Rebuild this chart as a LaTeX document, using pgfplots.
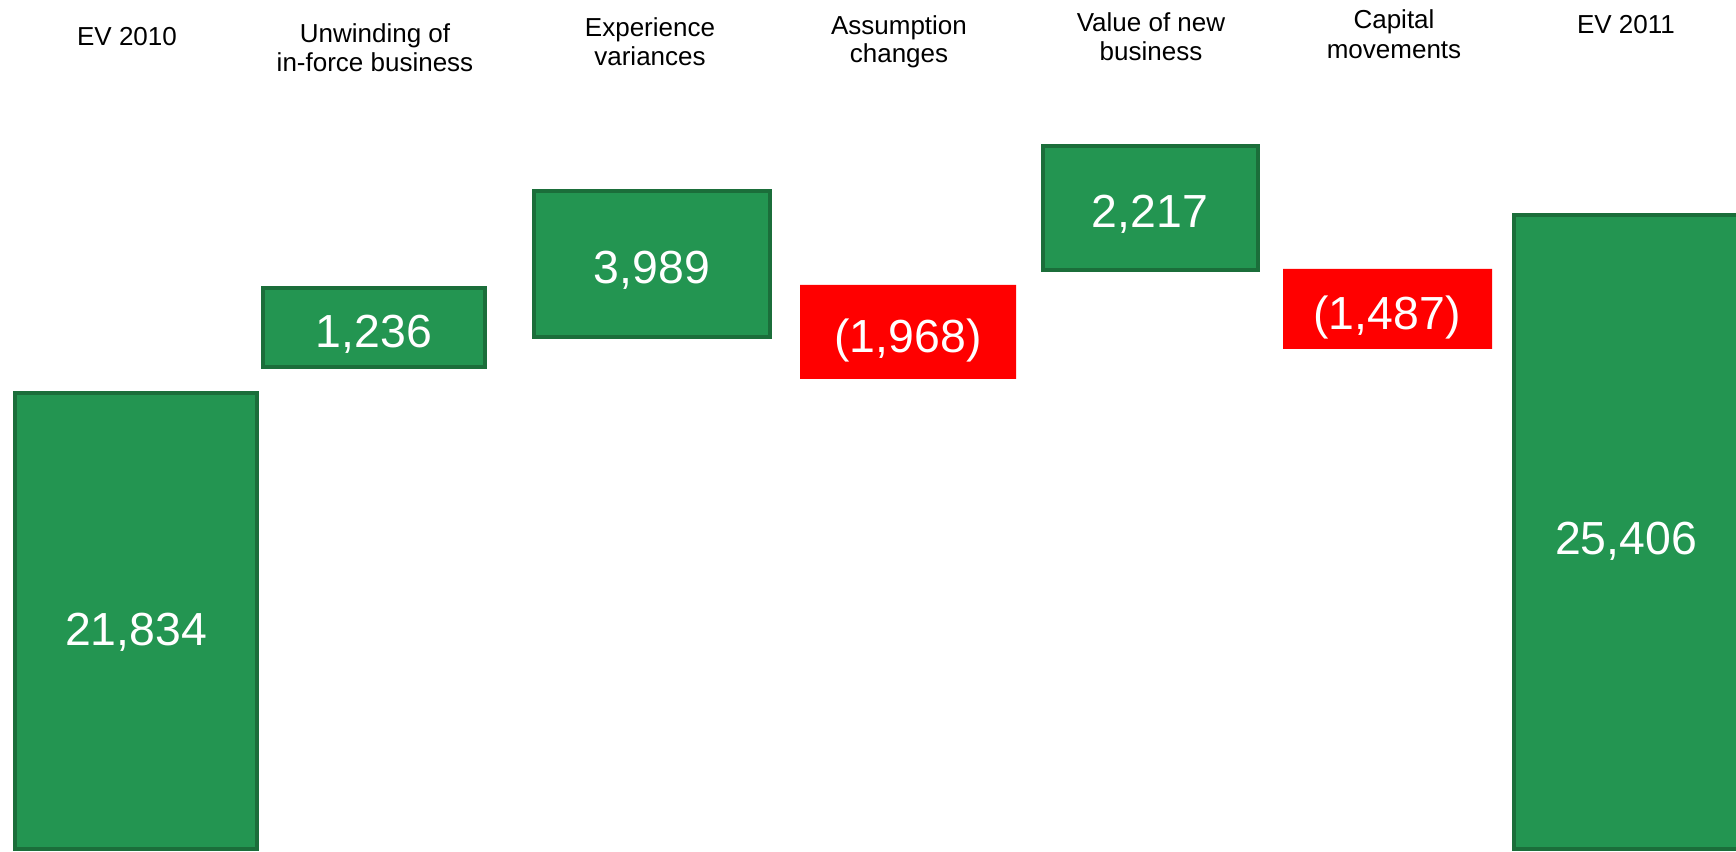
\documentclass[border=0pt]{standalone}
\usepackage{fontspec}
\setmainfont{Liberation Sans}
\usepackage{pgfplots}
\pgfplotsset{compat=1.18}
\definecolor{evgreen}{RGB}{35,149,81}
\definecolor{evborder}{RGB}{27,110,58}
\definecolor{evred}{RGB}{255,0,0}
\tikzset{
  gbar/.style={fill=evgreen, draw=evborder, line width=1pt, line join=miter, line cap=rect, mark=none},
  rbar/.style={fill=evred, draw=none, mark=none},
  cat/.style={anchor=base, font=\fontsize{6.5}{7.8}\selectfont, inner sep=0pt},
  val/.style={anchor=base, font=\fontsize{11.6}{14}\selectfont, text=white, inner sep=0pt, yshift=-5pt}}
\begin{document}
\begin{tikzpicture}
\begin{axis}[at={(0,0)}, anchor=south west, scale only axis,
  width=434pt, height=213pt,
  xmin=0, xmax=1736, ymin=12583, ymax=29680,
  hide axis, clip=false]
% EV 2010 (21,834)
\addplot[gbar] coordinates {(15,12640) (257,12640) (257,21794) (15,21794) (15,12640)};
% Unwinding of in-force business (+1,236)
\addplot[gbar] coordinates {(263,22315) (485,22315) (485,23901) (263,23901) (263,22315)};
% Experience variances (+3,989)
\addplot[gbar] coordinates {(534,22917) (770,22917) (770,25848) (534,25848) (534,22917)};
% Assumption changes (-1,968)
\addplot[rbar] coordinates {(800,22075) (1016,22075) (1016,23961) (800,23961) (800,22075)};
% Value of new business (+2,217)
\addplot[gbar] coordinates {(1043,24262) (1258,24262) (1258,26751) (1043,26751) (1043,24262)};
% Capital movements (-1,487)
\addplot[rbar] coordinates {(1283,22677) (1492,22677) (1492,24282) (1283,24282) (1283,22677)};
% EV 2011 (25,406)
\addplot[gbar] coordinates {(1514,12640) (1760,12640) (1760,25366) (1514,25366) (1514,12640)};

% value labels
\node[val] at (axis cs:136,17130) {21,834};
\node[val] at (axis cs:374,23108) {1,236};
\node[val] at (axis cs:652,24383) {3,989};
\node[val] at (axis cs:908,23000) {(1,968)};
\node[val] at (axis cs:1150,25506) {2,217};
\node[val] at (axis cs:1387,23470) {(1,487)};
\node[val] at (axis cs:1626,18960) {25,406};

% category labels
\node[cat] at (axis cs:127,28757) {EV 2010};
\node[cat] at (axis cs:375,28817) {Unwinding of};
\node[cat] at (axis cs:375,28235) {in-force business};
\node[cat] at (axis cs:650,28938) {Experience};
\node[cat] at (axis cs:650,28356) {variances};
\node[cat] at (axis cs:899,28978) {Assumption};
\node[cat] at (axis cs:899,28416) {changes};
\node[cat] at (axis cs:1151,29038) {Value of new};
\node[cat] at (axis cs:1151,28456) {business};
\node[cat] at (axis cs:1394,29098) {Capital};
\node[cat] at (axis cs:1394,28496) {movements};
\node[cat] at (axis cs:1626,28998) {EV 2011};
\end{axis}
\pgfresetboundingbox
\path (0,0) rectangle (434pt,213pt);
\end{tikzpicture}
\end{document}
